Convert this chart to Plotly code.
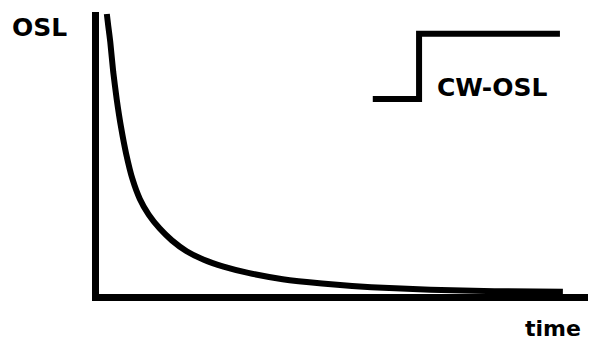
import plotly.graph_objects as go

# Decay curve (arbitrary units)
time = [0.23, 0.26, 0.30, 0.36, 0.43, 0.52, 0.62, 0.75, 0.90, 1.08, 1.30,
        1.55, 1.85, 2.20, 2.60, 3.10, 3.80, 4.60, 5.60, 6.80, 8.10, 9.49]
osl = [9.93, 9.50, 8.95, 7.90, 6.95, 5.95, 5.05, 4.15, 3.45, 2.90, 2.42,
       2.00, 1.62, 1.32, 1.08, 0.86, 0.64, 0.49, 0.36, 0.27, 0.22, 0.20]

# Stimulation step (CW-OSL inset)
step_time = [5.63, 6.57, 9.43]
step_level = [6.95, 9.24, 9.24]

labels = {"y": "OSL", "x": "time", "step": "CW-OSL"}

FONT = "DejaVu Sans"

fig = go.Figure()
fig.add_trace(go.Scatter(x=time, y=osl, mode="lines", line=dict(color="black", width=6, shape="spline", smoothing=0.6),
                         hoverinfo="skip", showlegend=False))
fig.add_trace(go.Scatter(x=step_time, y=step_level, mode="lines", line=dict(color="black", width=6, shape="hv"),
                         hoverinfo="skip", showlegend=False))

axis_common = dict(showline=True, linecolor="black", linewidth=7, showgrid=False, zeroline=False,
                   showticklabels=False, ticks="", fixedrange=True)
fig.update_xaxes(range=[0.071, 10.0], **axis_common)
fig.update_yaxes(range=[0.12, 10.0], **axis_common)

fig.add_annotation(text="<b>" + labels["y"] + "</b>", xref="paper", yref="paper", x=-0.182, y=0.945,
                   xanchor="left", yanchor="middle", showarrow=False, font=dict(family=FONT, size=25, color="black"))
fig.add_annotation(text="<b>" + labels["step"] + "</b>", xref="paper", yref="paper", x=0.687, y=0.734,
                   xanchor="left", yanchor="middle", showarrow=False, font=dict(family=FONT, size=25, color="black"))
fig.add_annotation(text="<b>" + labels["x"] + "</b>", xref="paper", yref="paper", x=0.990, y=-0.122,
                   xanchor="right", yanchor="middle", showarrow=False, font=dict(family=FONT, size=22, color="black"))

fig.update_layout(width=590, height=342, margin=dict(l=99, r=2, t=12, b=48, pad=0),
                  paper_bgcolor="white", plot_bgcolor="white")

fig.write_html("out.html", config={"displayModeBar": False},
               post_script="document.body.style.margin='0';document.body.style.overflow='hidden';")
